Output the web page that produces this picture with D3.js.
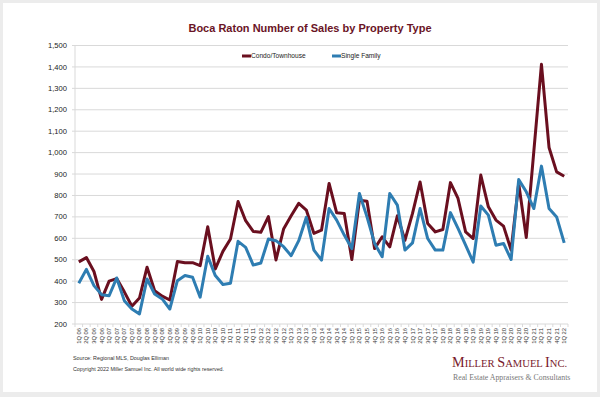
<!DOCTYPE html>
<html><head><meta charset="utf-8">
<script src="https://cdn.jsdelivr.net/npm/d3@7"></script>
<style>
html,body{margin:0;padding:0;background:#ececec;}
svg{display:block;}
</style></head>
<body>
<svg id="c" width="600" height="397"></svg>
<script>
const quarters = ["1Q 06","2Q 06","3Q 06","4Q 06","1Q 07","2Q 07","3Q 07","4Q 07","1Q 08","2Q 08","3Q 08","4Q 08","1Q 09","2Q 09","3Q 09","4Q 09","1Q 10","2Q 10","3Q 10","4Q 10","1Q 11","2Q 11","3Q 11","4Q 11","1Q 12","2Q 12","3Q 12","4Q 12","1Q 13","2Q 13","3Q 13","4Q 13","1Q 14","2Q 14","3Q 14","4Q 14","1Q 15","2Q 15","3Q 15","4Q 15","1Q 16","2Q 16","3Q 16","4Q 16","1Q 17","2Q 17","3Q 17","4Q 17","1Q 18","2Q 18","3Q 18","4Q 18","1Q 19","2Q 19","3Q 19","4Q 19","1Q 20","2Q 20","3Q 20","4Q 20","1Q 21","2Q 21","3Q 21","4Q 21","1Q 22"];
const condo = [490,510,445,315,400,412,350,283,321,465,355,330,312,492,486,486,472,654,457,539,597,772,682,632,628,701,499,643,705,763,732,623,638,856,719,716,501,778,773,552,607,560,705,591,716,863,669,630,641,860,786,630,599,895,747,685,657,545,856,604,1008,1412,1024,910,890];
const single = [390,455,379,337,332,415,309,270,247,410,340,317,270,402,426,418,325,516,426,384,390,586,558,475,485,597,589,561,519,589,698,545,498,739,685,615,552,809,700,576,514,809,755,545,579,739,599,545,545,720,646,568,489,751,708,568,576,501,874,817,739,937,739,700,579];
const yTicks = [200,300,400,500,600,700,800,900,1000,1100,1200,1300,1400,1500];
const seriesNames = ["Condo/Townhouse","Single Family"];
const colors = ["#6a0f1f","#2e7db2"];

const svg = d3.select("#c");
svg.append("rect").attr("x",3).attr("y",3).attr("width",594).attr("height",389).attr("fill","#ffffff");

const L=75, R=568, T=45.5, B=324;
const x = d3.scalePoint().domain(quarters).range([L,R]).padding(0.5);
const y = d3.scaleLinear().domain([200,1500]).range([B,T]);

// gridlines
svg.append("g").selectAll("line").data(yTicks).join("line")
  .attr("x1",L-3).attr("x2",R).attr("y1",d=>y(d)).attr("y2",d=>y(d))
  .attr("stroke","#d9d9d9").attr("stroke-width",1);
// y axis line
svg.append("line").attr("x1",L).attr("x2",L).attr("y1",T).attr("y2",B).attr("stroke","#d9d9d9");
// y labels
svg.append("g").selectAll("text").data(yTicks).join("text")
  .attr("x",L-8).attr("y",d=>y(d)+2.6).attr("text-anchor","end")
  .attr("font-family","Liberation Sans, Arial, sans-serif").attr("font-size",7.6).attr("fill","#222")
  .text(d=>d3.format(",")(d));
// x axis ticks
const step = x.step();
svg.append("g").selectAll("line").data(d3.range(quarters.length+1)).join("line")
  .attr("x1",i=>L+i*step).attr("x2",i=>L+i*step).attr("y1",B).attr("y2",B+3)
  .attr("stroke","#d9d9d9");
// x labels
svg.append("g").selectAll("text").data(quarters).join("text")
  .attr("transform",d=>`translate(${x(d)+2},${B+4}) rotate(-90)`)
  .attr("text-anchor","end")
  .attr("font-family","Liberation Sans, Arial, sans-serif").attr("font-size",5.8).attr("fill","#333")
  .text(d=>d);

// lines
const line = d3.line().x((d,i)=>x(quarters[i])).y(d=>y(d));
[condo,single].forEach((s,k)=>{
  svg.append("path").datum(s).attr("d",line).attr("fill","none")
    .attr("stroke",colors[k]).attr("stroke-width",3).attr("stroke-linejoin","round");
});
// legend
const lg = [{x:242,tx:251},{x:332,tx:341}];
lg.forEach((p,k)=>{
  svg.append("line").attr("x1",p.x).attr("x2",p.x+9).attr("y1",56).attr("y2",56)
    .attr("stroke",colors[k]).attr("stroke-width",3);
  svg.append("text").attr("x",p.tx).attr("y",58.3)
    .attr("font-family","Liberation Sans, Arial, sans-serif").attr("font-size",6.6).attr("fill","#222")
    .text(seriesNames[k]);
});
// title
svg.append("text").attr("x",310).attr("y",32).attr("text-anchor","middle")
  .attr("font-family","Liberation Sans, Arial, sans-serif").attr("font-weight","bold")
  .attr("font-size",11).attr("fill","#6a1426")
  .text("Boca Raton Number of Sales by Property Type");
// footer
svg.append("text").attr("x",73).attr("y",360).attr("font-family","Liberation Sans, Arial, sans-serif")
  .attr("font-size",5.4).attr("fill","#333").text("Source: Regional MLS, Douglas Elliman");
svg.append("text").attr("x",73).attr("y",371).attr("font-family","Liberation Sans, Arial, sans-serif")
  .attr("font-size",5.3).attr("fill","#333").text("Copyright 2022 Miller Samuel Inc.  All world wide rights reserved.");
// logo
const logo = svg.append("text").attr("x",452).attr("y",367)
  .attr("font-family","Liberation Serif, Times New Roman, serif").attr("fill","#7a1a2c");
[["M",14.2],["ILLER ",10.6],["S",14.2],["AMUEL ",10.6],["I",14.2],["NC.",10.6]].forEach(([t,s])=>{
  logo.append("tspan").attr("font-size",s).text(t);
});
svg.append("text").attr("x",453).attr("y",380)
  .attr("font-family","Liberation Serif, Times New Roman, serif").attr("font-size",7.8).attr("fill","#777")
  .text("Real Estate Appraisers & Consultants");
</script>
</body></html>
